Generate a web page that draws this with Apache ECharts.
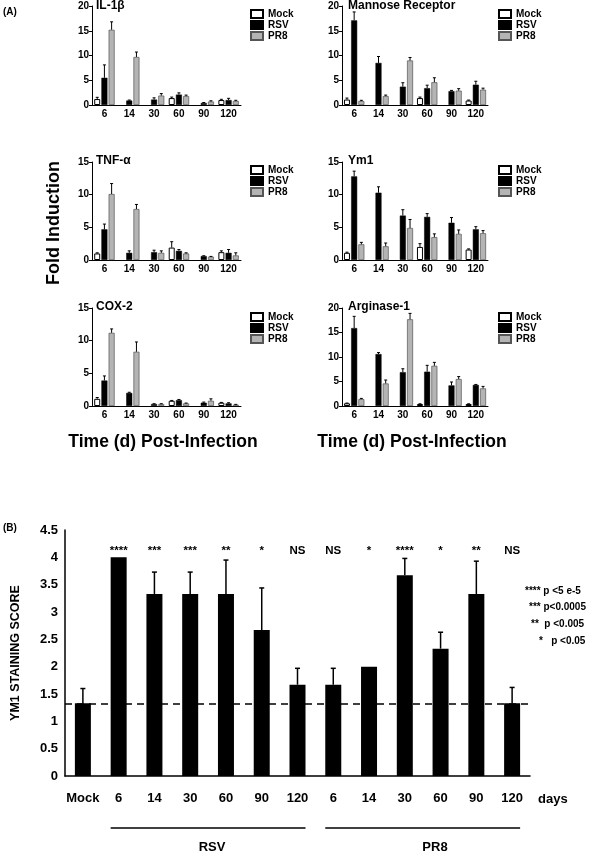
<!DOCTYPE html>
<html><head><meta charset="utf-8">
<script src="https://cdn.jsdelivr.net/npm/echarts@6/dist/echarts.min.js"></script>
<style>html,body{margin:0;padding:0;background:#fff}#c{width:590px;height:853px}</style>
</head><body><div id="c"></div>
<script>
const FONT = '"Liberation Sans", Arial, Helvetica, sans-serif';
const days = ['6','14','30','60','90','120'];
const groupNames = ['Mock','RSV','PR8'];

// IL-1beta
const il1bMock = [1.2, null, null, 1.4, null, 1.0];
const il1bMockErr = [0.35, 0, 0, 0.2, 0, 0.15];
const il1bRsv = [5.5, 0.9, 1.1, 2.1, 0.4, 1.0];
const il1bRsvErr = [2.6, 0.1, 0.35, 0.35, 0.1, 0.35];
const il1bPr8 = [15.2, 9.7, 1.9, 1.8, 0.7, 0.8];
const il1bPr8Err = [1.6, 1.0, 0.4, 0.2, 0.15, 0.15];
// Mannose Receptor
const mrMock = [1.1, null, null, 1.4, null, 0.9];
const mrMockErr = [0.3, 0, 0, 0.2, 0, 0.1];
const mrRsv = [17.1, 8.5, 3.7, 3.4, 2.8, 4.1];
const mrRsvErr = [1.7, 1.3, 0.8, 0.6, 0.15, 0.7];
const mrPr8 = [0.8, 1.8, 9.0, 4.6, 2.9, 3.1];
const mrPr8Err = [0.15, 0.2, 0.6, 0.9, 0.4, 0.3];
// TNF-alpha
const tnfMock = [1.0, null, null, 1.9, null, 1.2];
const tnfMockErr = [0.1, 0, 0, 0.9, 0, 0.2];
const tnfRsv = [4.7, 1.1, 1.2, 1.4, 0.6, 1.1];
const tnfRsvErr = [0.8, 0.3, 0.3, 0.2, 0.05, 0.5];
const tnfPr8 = [10.1, 7.8, 1.1, 1.0, 0.5, 0.7];
const tnfPr8Err = [1.6, 0.7, 0.3, 0.1, 0.05, 0.4];
// Ym1
const ym1Mock = [1.1, null, null, 2.0, null, 1.6];
const ym1MockErr = [0.1, 0, 0, 0.5, 0, 0.1];
const ym1Rsv = [12.8, 10.3, 6.8, 6.6, 5.7, 4.7];
const ym1RsvErr = [0.8, 0.9, 0.9, 0.5, 0.8, 0.4];
const ym1Pr8 = [2.4, 2.1, 4.9, 3.5, 4.0, 4.1];
const ym1Pr8Err = [0.3, 0.5, 1.3, 0.5, 0.6, 0.4];
// COX-2
const coxMock = [1.1, null, null, 0.8, null, 0.5];
const coxMockErr = [0.2, 0, 0, 0.05, 0, 0.05];
const coxRsv = [3.9, 2.0, 0.3, 0.9, 0.5, 0.4];
const coxRsvErr = [0.7, 0.1, 0.05, 0.1, 0.1, 0.1];
const coxPr8 = [11.2, 8.3, 0.3, 0.4, 0.8, 0.2];
const coxPr8Err = [0.6, 1.5, 0.05, 0.05, 0.3, 0.05];
// Arginase-1
const argMock = [0.55, null, null, 0.4, null, 0.4];
const argMockErr = [0.05, 0, 0, 0.05, 0, 0.05];
const argRsv = [15.9, 10.6, 6.9, 7.0, 4.2, 4.3];
const argRsvErr = [2.4, 0.3, 0.7, 1.3, 0.7, 0.1];
const argPr8 = [1.4, 4.6, 17.7, 8.2, 5.5, 3.6];
const argPr8Err = [0.15, 0.7, 1.2, 0.7, 0.5, 0.4];

// Panel B
const ymCats = ['Mock','6','14','30','60','90','120','6','14','30','60','90','120'];
const ymScore = [1.33, 4.0, 3.33, 3.33, 3.33, 2.67, 1.67, 1.67, 2.0, 3.67, 2.33, 3.33, 1.33];
const ymScoreErr = [0.27, 0, 0.4, 0.4, 0.62, 0.77, 0.3, 0.3, 0, 0.31, 0.3, 0.6, 0.29];
const ymSig = ['', '****','***','***','**','*','NS','NS','*','****','*','**','NS'];
const ymBaseline = 1.33;
const ymSigLevel = 4.12;
const pLegend = ['**** p <5 e-5', '*** p<0.0005', '**  p <0.005', '*   p <0.05'];

const panels = [
  {title:'IL-1\u03b2', max:20, mean:[il1bMock, il1bRsv, il1bPr8], err:[il1bMockErr, il1bRsvErr, il1bPr8Err]},
  {title:'Mannose Receptor', max:20, mean:[mrMock, mrRsv, mrPr8], err:[mrMockErr, mrRsvErr, mrPr8Err]},
  {title:'TNF-\u03b1', max:15, mean:[tnfMock, tnfRsv, tnfPr8], err:[tnfMockErr, tnfRsvErr, tnfPr8Err]},
  {title:'Ym1', max:15, mean:[ym1Mock, ym1Rsv, ym1Pr8], err:[ym1MockErr, ym1RsvErr, ym1Pr8Err]},
  {title:'COX-2', max:15, mean:[coxMock, coxRsv, coxPr8], err:[coxMockErr, coxRsvErr, coxPr8Err]},
  {title:'Arginase-1', max:20, mean:[argMock, argRsv, argPr8], err:[argMockErr, argRsvErr, argPr8Err]}
];

const layout = [
  {left:92, top:6, width:149, height:99, lx:250, ly:9, tx:96, ty:0},
  {left:342, top:6, width:146, height:99, lx:498, ly:9, tx:348, ty:0},
  {left:92, top:162, width:149, height:98, lx:250, ly:165, tx:96, ty:155},
  {left:342, top:162, width:146, height:98, lx:498, ly:165, tx:348, ty:155},
  {left:92, top:308, width:149, height:98, lx:250, ly:312, tx:96, ty:301},
  {left:342, top:308, width:146, height:98, lx:498, ly:312, tx:348, ty:301}
];

const styles = [
  {color:'#ffffff', borderColor:'#000', borderWidth:1},
  {color:'#000000', borderColor:'#000', borderWidth:0.5},
  {color:'#b4b4b4', borderColor:'#555', borderWidth:0.7}
];

const BW = 6, GAP = 0.2;

function errRender(offset, capHalf, lw) {
  return function (params, api) {
    const v = api.value(1), e = api.value(2);
    if (!(e > 0)) return;
    const p0 = api.coord([api.value(0), v]);
    const p1 = api.coord([api.value(0), v + e]);
    const x = p0[0] + offset;
    return {type:'group', children:[
      {type:'line', shape:{x1:x, y1:p0[1], x2:x, y2:p1[1]}, style:{stroke:'#000', lineWidth:lw}},
      {type:'line', shape:{x1:x-capHalf, y1:p1[1], x2:x+capHalf, y2:p1[1]}, style:{stroke:'#000', lineWidth:lw}}
    ]};
  };
}

const grid = [], xAxis = [], yAxis = [], series = [], legend = [], title = [];
panels.forEach((p, k) => {
  const L = layout[k];
  grid.push({left:L.left, top:L.top, width:L.width, height:L.height});
  xAxis.push({type:'category', gridIndex:k, data:days,
    axisLine:{lineStyle:{color:'#000', width:1}},
    axisTick:{alignWithLabel:true, length:3, lineStyle:{color:'#000'}},
    axisLabel:{color:'#000', fontSize:10, fontWeight:'bold', fontFamily:FONT, margin:4}});
  yAxis.push({type:'value', gridIndex:k, min:0, max:p.max, interval:5,
    axisLine:{show:true, lineStyle:{color:'#000', width:1}},
    axisTick:{show:true, length:3, lineStyle:{color:'#000'}},
    splitLine:{show:false},
    axisLabel:{color:'#000', fontSize:10, fontWeight:'bold', fontFamily:FONT, margin:3}});
  title.push({text:p.title, left:L.tx, top:L.ty, padding:0,
    textStyle:{fontSize:12, fontWeight:'bold', fontFamily:FONT, color:'#000'}});
  legend.push({left:L.lx, top:L.ly, orient:'vertical', padding:0, itemGap:1,
    itemWidth:12, itemHeight:8, selectedMode:false, icon:'rect', data:groupNames,
    textStyle:{fontSize:10, fontWeight:'bold', fontFamily:FONT, color:'#000', lineHeight:10}});
  groupNames.forEach((g, j) => {
    series.push({type:'bar', name:g, xAxisIndex:k, yAxisIndex:k, barWidth:BW, barGap:(GAP*100)+'%',
      itemStyle:styles[j], data:p.mean[j], animation:false});
  });
  groupNames.forEach((g, j) => {
    const off = (j - 1) * (BW + BW * GAP);
    series.push({type:'custom', name:'err', xAxisIndex:k, yAxisIndex:k, z:5,
      renderItem:errRender(off, 1.5, 1), encode:{x:0, y:1}, animation:false,
      data:days.map((d, i) => [i, p.mean[j][i], p.err[j][i]]).filter(r => r[1] != null)});
  });
});

// Panel B
const B = 6;
grid.push({left:65, top:530, width:465, height:246});
xAxis.push({type:'category', gridIndex:B, data:ymCats,
  axisLine:{lineStyle:{color:'#000', width:1.5}},
  axisTick:{length:3, lineStyle:{color:'#000', width:1}},
  axisLabel:{color:'#000', fontSize:13, fontWeight:'bold', fontFamily:FONT, margin:16, interval:0}});
yAxis.push({type:'value', gridIndex:B, min:0, max:4.5, interval:0.5,
  axisLine:{show:true, lineStyle:{color:'#000', width:1.5}},
  axisTick:{show:false},
  splitLine:{show:false},
  axisLabel:{color:'#000', fontSize:13, fontWeight:'bold', fontFamily:FONT, margin:7}});
series.push({type:'bar', name:'score', xAxisIndex:B, yAxisIndex:B, barWidth:16,
  itemStyle:{color:'#000'}, data:ymScore, animation:false,
  markLine:{silent:true, symbol:'none', label:{show:false},
    lineStyle:{color:'#000', type:[7,5], width:1.5}, data:[{yAxis:ymBaseline}]}});
series.push({type:'custom', name:'err', xAxisIndex:B, yAxisIndex:B, z:5,
  renderItem:errRender(0, 2.5, 1.5), encode:{x:0, y:1}, animation:false,
  data:ymScore.map((v, i) => [i, v, ymScoreErr[i]])});
series.push({type:'custom', name:'sig', xAxisIndex:B, yAxisIndex:B, z:6, animation:false,
  encode:{x:0, y:1},
  renderItem:function (params, api) {
    const i = api.value(0);
    const p = api.coord([i, api.value(1)]);
    return {type:'text', x:p[0], y:p[1], style:{text:ymSig[i], fill:'#000',
      font:'bold 11.5px ' + FONT, align:'center', verticalAlign:'middle'}};
  },
  data:ymSig.map((s, i) => [i, ymSigLevel])});

const chart = echarts.init(document.getElementById('c'), null, {renderer:'canvas'});
chart.setOption({animation:false, backgroundColor:'#fff', title, grid, xAxis, yAxis, legend, series});

const px = i => chart.convertToPixel({gridIndex:B}, [i, 0])[0];
const txt = (text, x, y, size, opts) => Object.assign({type:'text', x, y,
  style:{text, fill:'#000', font:'bold ' + size + 'px ' + FONT, align:'left', verticalAlign:'middle'}}, opts || {});
const graphic = [
  txt('(A)', 3, 12, 10),
  txt('(B)', 3, 528, 10),
  {type:'text', x:54, y:223, rotation:Math.PI/2,
    style:{text:'Fold Induction', fill:'#000', font:'bold 18px ' + FONT, align:'center', verticalAlign:'middle'}},
  {type:'text', x:163, y:442, style:{text:'Time (d) Post-Infection', fill:'#000', font:'bold 17.5px ' + FONT, align:'center', verticalAlign:'middle'}},
  {type:'text', x:412, y:442, style:{text:'Time (d) Post-Infection', fill:'#000', font:'bold 17.5px ' + FONT, align:'center', verticalAlign:'middle'}},
  {type:'text', x:16, y:653, rotation:Math.PI/2,
    style:{text:'YM1 STAINING SCORE', fill:'#000', font:'bold 12.5px ' + FONT, align:'center', verticalAlign:'middle'}},
  txt('days', 538, 799, 13),
  {type:'line', shape:{x1:px(1) - 8, y1:828, x2:px(6) + 8, y2:828}, style:{stroke:'#000', lineWidth:1.5}},
  {type:'line', shape:{x1:px(7) - 8, y1:828, x2:px(12) + 8, y2:828}, style:{stroke:'#000', lineWidth:1.5}},
  {type:'text', x:212, y:847, style:{text:'RSV', fill:'#000', font:'bold 13px ' + FONT, align:'center', verticalAlign:'middle'}},
  {type:'text', x:435, y:847, style:{text:'PR8', fill:'#000', font:'bold 13px ' + FONT, align:'center', verticalAlign:'middle'}}
];
const pY = [591, 607, 624, 641];
const pX = [525, 529, 531, 539];
pLegend.forEach((t, i) => graphic.push(txt(t, pX[i], pY[i], 10)));
chart.setOption({graphic});
</script></body></html>
